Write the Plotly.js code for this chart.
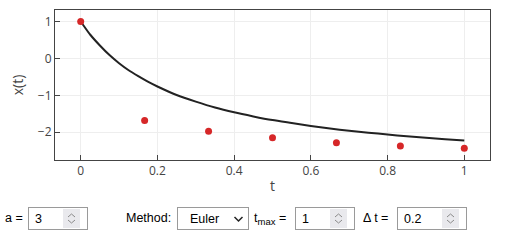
<!DOCTYPE html>
<html>
<head>
<meta charset="utf-8">
<script src="https://cdn.plot.ly/plotly-3.0.1.min.js"></script>
<style>
  html, body { margin: 0; padding: 0; background: #fff; width: 520px; height: 250px; overflow: hidden; }
  #plot { position: absolute; left: 0; top: 0; width: 520px; height: 195px; }
  .ctl { position: absolute; font-family: "Liberation Sans", Arial, sans-serif; font-size: 12.5px; color: #000; line-height: 16px; }
  .lbl { top: 210px; }
  input, select { position: absolute; top: 207px; height: 23px; box-sizing: border-box; font-family: "Liberation Sans", Arial, sans-serif; font-size: 12.5px; border: 1px solid #9a9a9a; border-radius: 0; padding: 0 0 0 6px; background: #fff; color: #000; margin: 0; outline: none; }
  input[type=number] { -moz-appearance: textfield; }
  input[type=number]::-webkit-inner-spin-button, input[type=number]::-webkit-outer-spin-button { -webkit-appearance: none; margin: 0; display: none; }
  select { -webkit-appearance: none; appearance: none; }
  .spin { position: absolute; top: 209px; width: 17px; height: 19px; background: #e9e9ed; pointer-events: none; }
  .chev { position: absolute; pointer-events: none; }
  sub { font-size: 9.5px; vertical-align: -3px; line-height: 0; }
</style>
</head>
<body>
<div id="plot"></div>
<span class="ctl lbl" style="left:5px;">a =</span>
<input type="number" value="3" style="left:28px; width:60px;">
<div class="spin" style="left:63px;"><svg width="17" height="19"><polyline points="5,8 8.5,5 12,8" fill="none" stroke="#8a8a8a" stroke-width="1"/><polyline points="5,11 8.5,14 12,11" fill="none" stroke="#8a8a8a" stroke-width="1"/></svg></div>
<span class="ctl lbl" style="left:126px;">Method:</span>
<select style="left:177px; width:72px; padding-left:12px;"><option>Euler</option></select>
<svg class="chev" style="left:233px; top:215px;" width="11" height="8"><polyline points="1.5,2 5.5,6 9.5,2" fill="none" stroke="#222" stroke-width="1.5"/></svg>
<span class="ctl lbl" style="left:254px;">t<sub>max</sub> =</span>
<input type="number" value="1" style="left:295px; width:60px;">
<div class="spin" style="left:330px;"><svg width="17" height="19"><polyline points="5,8 8.5,5 12,8" fill="none" stroke="#8a8a8a" stroke-width="1"/><polyline points="5,11 8.5,14 12,11" fill="none" stroke="#8a8a8a" stroke-width="1"/></svg></div>
<span class="ctl lbl" style="left:363px;">Δ t =</span>
<input type="number" value="0.2" step="0.1" style="left:397px; width:70px;">
<div class="spin" style="left:442px;"><svg width="17" height="19"><polyline points="5,8 8.5,5 12,8" fill="none" stroke="#8a8a8a" stroke-width="1"/><polyline points="5,11 8.5,14 12,11" fill="none" stroke="#8a8a8a" stroke-width="1"/></svg></div>
<script>
const exactT = [0, 0.025, 0.05, 0.075, 0.10, 0.125, 0.15, 0.175, 0.20, 0.25, 0.30, 0.35, 0.40, 0.45, 0.50, 0.55, 0.60, 0.65, 0.70, 0.75, 0.80, 0.85, 0.90, 0.95, 1.00];
const exactX = [1.00, 0.64, 0.35, 0.09, -0.13, -0.32, -0.48, -0.63, -0.76, -0.99, -1.17, -1.33, -1.46, -1.57, -1.67, -1.75, -1.83, -1.90, -1.96, -2.01, -2.06, -2.11, -2.15, -2.19, -2.22];
const numT = [0, 1/6, 2/6, 3/6, 4/6, 5/6, 1];
const numX = [1.00, -1.68, -1.97, -2.15, -2.28, -2.37, -2.43];

const traces = [
  { x: exactT, y: exactX, mode: 'lines', line: { color: '#222', width: 2, shape: 'spline', smoothing: 0.6 }, showlegend: false, hoverinfo: 'skip' },
  { x: numT, y: numX, mode: 'markers', marker: { color: '#d62728', size: 7 }, showlegend: false }
];
const axisCommon = {
  showline: true, mirror: true, linecolor: '#444', linewidth: 1,
  ticks: 'inside', ticklen: 5, tickcolor: '#444',
  gridcolor: '#eee', zeroline: false,
  tickfont: { family: '"Open Sans", sans-serif', size: 12, color: '#444' }
};
const layout = {
  margin: { l: 55, r: 30, t: 10, b: 35 },
  paper_bgcolor: '#fff', plot_bgcolor: '#fff',
  xaxis: Object.assign({}, axisCommon, { range: [-0.067, 1.067], dtick: 0.2,
    title: { text: 't', font: { family: '"Open Sans", sans-serif', size: 14, color: '#444' }, standoff: 10 } }),
  yaxis: Object.assign({}, axisCommon, { range: [-2.75, 1.31], dtick: 1,
    title: { text: 'x(t)', font: { family: '"Open Sans", sans-serif', size: 14, color: '#444' }, standoff: 10 } })
};
Plotly.newPlot('plot', traces, layout, { displayModeBar: false, staticPlot: true });
</script>
</body>
</html>
